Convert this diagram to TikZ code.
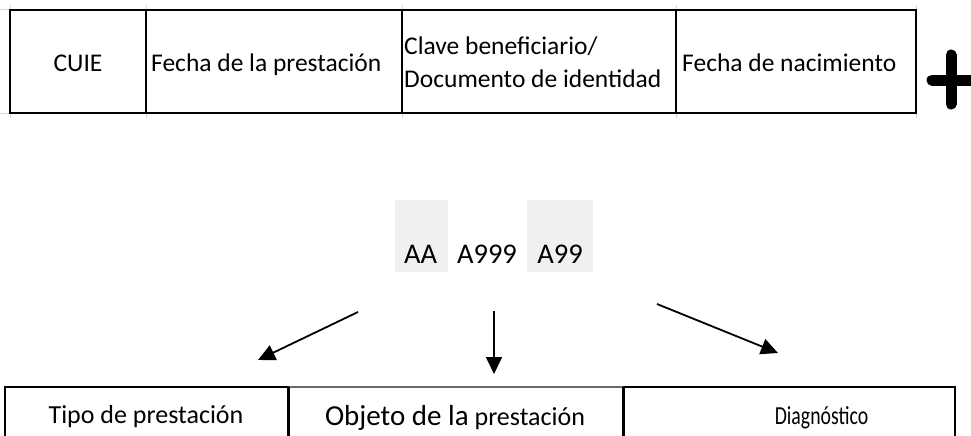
\documentclass[tikz,border=0pt]{standalone}
\usepackage{fontspec}
\setmainfont{Carlito}
\usetikzlibrary{arrows.meta}
\definecolor{codegray}{HTML}{F0F0F0}
\definecolor{gridgray}{HTML}{D6D6D6}
\definecolor{midgray}{HTML}{6A6A6A}
\tikzset{
  tbl/.style={line width=2pt, line join=miter},
  gridstub/.style={gridgray, line width=1pt},
  toptext/.style={inner sep=0pt, font=\fontsize{25.5}{30}\selectfont},
  codetext/.style={inner sep=0pt, anchor=base, font=\fontsize{28.5}{34}\selectfont},
  bottext/.style={inner sep=0pt, anchor=base, font=\fontsize{26}{31}\selectfont},
  arr/.style={line width=1.8pt, -{Triangle[length=17pt,width=16pt]}},
  plusbar/.style={line width=11pt, line cap=round}
}
\begin{document}
\begin{tikzpicture}[x=1pt,y=-1pt]
\useasboundingbox (0,0) rectangle (971,436);
% faint grid stubs
\draw[gridstub] (0,10) -- (10,10);
\draw[gridstub] (0,113) -- (10,113);
\foreach \xx in {10,146,402,676,916} {
  \draw[gridstub] (\xx,5) -- (\xx,10);
  \draw[gridstub] (\xx,113) -- (\xx,118);
}
% top table
\draw[tbl] (10,10) rectangle (916,113);
\draw[tbl] (146,10) -- (146,113);
\draw[tbl] (402,10) -- (402,113);
\draw[tbl] (676,10) -- (676,113);
\node[toptext, anchor=base] (cuie) at (78,71) {CUIE};
\node[toptext, anchor=base west] (fecha) at (151,71) {Fecha de la prestación};
\node[toptext, anchor=base west] (clave) at (404,55) {Clave beneficiario/};
\node[toptext, anchor=base west] (docu) at (404,87) {Documento de identidad};
\node[toptext, anchor=base west] (nac) at (682,71) {Fecha de nacimiento};
% plus sign
\draw[plusbar] (951,55) -- (951,104);
\draw[plusbar] (932,80) -- (975,80);
% code
\fill[codegray] (395,200) rectangle (448,272);
\fill[codegray] (527,200) rectangle (593,272);
\node[codetext] (aa) at (420.5,263) {AA};
\node[codetext] (a999) at (487,263) {A999};
\node[codetext] (a99) at (560,263) {A99};
% arrows
\coordinate (l1) at (358,312); \coordinate (l2) at (258,360);
\coordinate (c1) at (494,311); \coordinate (c2) at (494,374);
\coordinate (r1) at (657,304); \coordinate (r2) at (778,353);
\draw[arr] (l1) -- (l2);
\draw[arr] (c1) -- (c2);
\draw[arr] (r1) -- (r2);
% bottom table
\draw[tbl] (5,437) -- (5,387) -- (288.5,387);
\draw[midgray, line width=1.5pt] (288.5,387) -- (623,387);
\draw[tbl] (623,387) -- (955,387) -- (955,437);
\draw[line width=3pt] (288.5,387) -- (288.5,437);
\draw[line width=3pt] (623,387) -- (623,437);
\node[bottext] (tipo) at (146,423) {Tipo de prestación};
\node[bottext] (objeto) at (455,425) {{\fontsize{29}{34}\selectfont Objeto de la} prestación};
\node[bottext] (diag) at (821.5,424) {\scalebox{0.76}[1]{\fontsize{26}{31}\selectfont Diagnóstico}};
\end{tikzpicture}
\end{document}
